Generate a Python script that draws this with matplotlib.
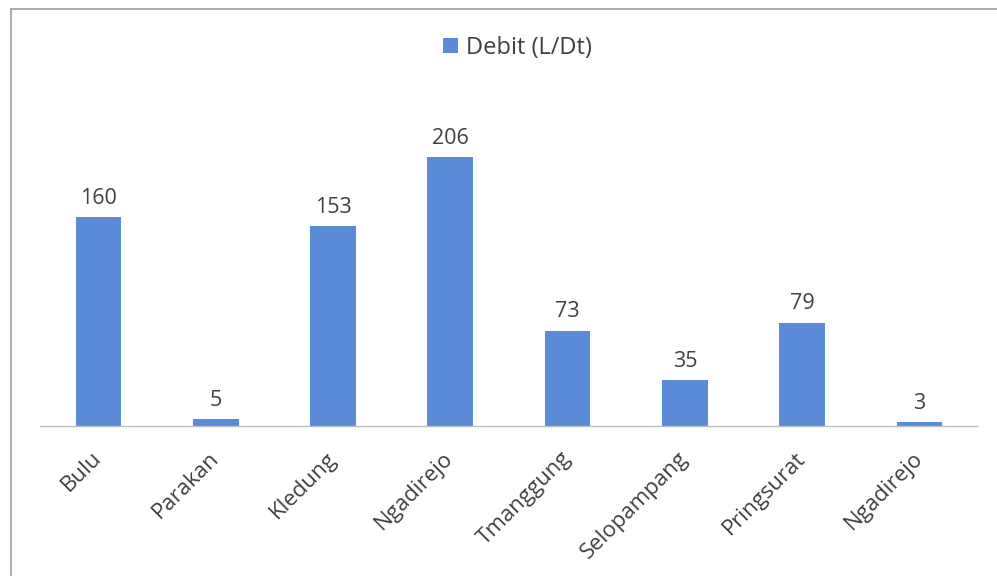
import numpy as np
import matplotlib
matplotlib.use("Agg")
from matplotlib import pyplot as plt
from matplotlib.lines import Line2D

plt.rcParams['font.family'] = ['Open Sans', 'DejaVu Sans']

lokasi = ["Bulu", "Parakan", "Kledung", "Ngadirejo", "Tmanggung",
          "Selopampang", "Pringsurat", "Ngadirejo"]
debit = [160, 5, 153, 206, 73, 35, 79, 3]

warna = '#5a8bd8'
teks = '#404040'

fig = plt.figure(figsize=(9.97, 5.76), dpi=100)
ax = fig.add_axes([0.040, 0.2604, 0.941, 0.567])

x = np.arange(len(lokasi))
bars = ax.bar(x, debit, width=0.39, color=warna, label='Debit (L/Dt)')
ax.bar_label(bars, padding=6, fontsize=15.5, color=teks)

ax.set_xlim(-0.5, len(lokasi) - 0.5)
ax.set_ylim(0, 250)
ax.set_yticks([])
ax.set_xticks(x)
ax.set_xticklabels(lokasi, rotation=45, ha='right', va='center',
                   rotation_mode='anchor', fontsize=16, color=teks)
ax.tick_params(axis='x', length=0, pad=21)
for s in ['top', 'right', 'left']:
    ax.spines[s].set_visible(False)
ax.spines['bottom'].set_color('#bdbdbd')
ax.spines['bottom'].set_linewidth(1.0)

leg = fig.legend(handles=[bars], labels=['Debit (L/Dt)'], loc='center',
                 bbox_to_anchor=(0.519, 0.917), frameon=False,
                 fontsize=17, handlelength=0.65, handleheight=0.65,
                 handletextpad=0.35)
for t in leg.get_texts():
    t.set_color(teks)

# chart border (scan shows only left and top edges)
fig.add_artist(Line2D([0.011, 0.011], [0, 0.984], transform=fig.transFigure,
                      color='#a0a0a0', linewidth=1.2))
fig.add_artist(Line2D([0.011, 1.0], [0.984, 0.984], transform=fig.transFigure,
                      color='#a0a0a0', linewidth=1.2))

fig.savefig('out.png', dpi=100, facecolor='white')
